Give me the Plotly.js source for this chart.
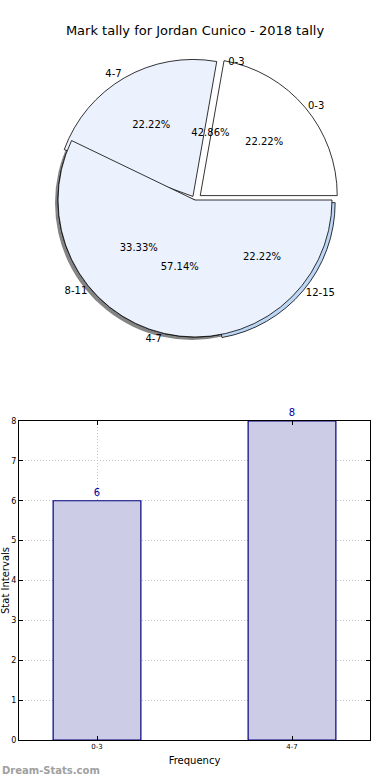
<!DOCTYPE html>
<html>
<head>
<meta charset="utf-8">
<script src="https://cdn.plot.ly/plotly-3.0.1.min.js"></script>
<style>html,body{margin:0;padding:0;background:#fff;}#chart{width:390px;height:780px;}</style>
</head>
<body>
<div id="chart"></div>
<script>
// ---- data ----
const titleText = "Mark tally for Jordan Cunico - 2018 tally";
const outerLabels = ["0-3", "4-7", "8-11", "12-15"];
const outerValues = [2, 2, 3, 2];
const innerLabels = ["0-3", "4-7"];
const innerValues = [6, 8];
const barCategories = ["0-3", "4-7"];
const barValues = [6, 8];
const yTicks = [0, 1, 2, 3, 4, 5, 6, 7, 8];

// ---- layout helpers (pixel geometry only) ----
const W = 390, H = 780;
const M = {l: 19, r: 20, t: 0, b: 40};
const PW = W - M.l - M.r, PH = H - M.t - M.b;
const fx = px => (px - M.l) / PW;
const fy = py => (H - M.b - py) / PH;
function pieDomain(cx, cy, r, maxPull) {
  const h = r * (1 + maxPull);
  return {x: [fx(cx - h), fx(cx + h)], y: [fy(cy + h), fy(cy - h)]};
}
// first slice starts at 3 o'clock and runs counterclockwise
const startRot = vals => 90 - 360 * vals[0] / vals.reduce((a, b) => a + b, 0);
const CX = 195, CY = 200, R = 137;
const outerPull = [0.05, 0.03, 0, 0.03];
const maxOuterPull = Math.max.apply(null, outerPull);
const clear = n => Array(n).fill("rgba(0,0,0,0)");
const FONT = "DejaVu Sans, Verdana, sans-serif";
const LIGHT = "#ebf1fd";

const pieCommon = {
  type: "pie", sort: false, direction: "counterclockwise",
  hoverinfo: "skip", showlegend: false
};
const outerBase = Object.assign({}, pieCommon, {
  labels: outerLabels, values: outerValues, pull: outerPull, rotation: startRot(outerValues),
  domain: pieDomain(CX, CY, R, maxOuterPull)
});
const innerBase = Object.assign({}, pieCommon, {
  labels: innerLabels, values: innerValues, rotation: startRot(innerValues),
  domain: pieDomain(CX, CY, R, 0)
});

const traces = [
  // shadow of the large wedge
  Object.assign({}, innerBase, {
    domain: pieDomain(CX - 3, CY + 3, R, 0),
    marker: {colors: ["rgba(0,0,0,0)", "rgba(80,80,80,0.7)"], line: {width: 0}},
    textinfo: "none"
  }),
  // outer pie (underneath)
  Object.assign({}, outerBase, {
    marker: {colors: ["#ffffff", LIGHT, LIGHT, "#bcd6f6"], line: {color: "#000", width: 0.8}},
    textinfo: "none"
  }),
  // inner pie (on top; first wedge unfilled)
  Object.assign({}, innerBase, {
    marker: {colors: ["rgba(0,0,0,0)", LIGHT], line: {color: "#000", width: [0, 0.8]}},
    textinfo: "none"
  }),
  // outer percent text
  Object.assign({}, outerBase, {
    marker: {colors: clear(4), line: {width: 0}},
    texttemplate: "%{percent:.2%}", textposition: "inside", insidetextorientation: "horizontal",
    textfont: {family: FONT, size: 10, color: "#000"}
  }),
  // outer labels
  Object.assign({}, outerBase, {
    marker: {colors: clear(4), line: {width: 0}},
    texttemplate: "%{label}", textposition: "outside",
    textfont: {family: FONT, size: 10, color: "#000"}
  }),
  // inner percent text
  Object.assign({}, innerBase, {
    marker: {colors: clear(2), line: {width: 0}},
    texttemplate: "%{percent:.2%}", textposition: "inside", insidetextorientation: "horizontal",
    textfont: {family: FONT, size: 10, color: "#000"}
  }),
  // inner labels
  Object.assign({}, innerBase, {
    marker: {colors: clear(2), line: {width: 0}},
    texttemplate: "%{label}", textposition: "outside",
    textfont: {family: FONT, size: 10, color: "#000"}
  }),
  // bar chart
  {
    type: "bar", x: barCategories, y: barValues, width: 0.45,
    marker: {color: "#ccccE6", line: {color: "#000080", width: 1.2}},
    text: barValues.map(String), textposition: "outside", cliponaxis: false,
    textfont: {family: FONT, size: 10, color: "#0000a0"},
    hoverinfo: "skip", showlegend: false
  }
];

const axisCommon = {
  showline: true, linecolor: "#000", linewidth: 1, mirror: "ticks",
  ticks: "inside", ticklen: 4, tickcolor: "#000",
  showgrid: true, gridcolor: "#c4c4c4", griddash: "1px,2px", gridwidth: 1,
  zeroline: false, tickfont: {family: FONT, size: 8, color: "#000"}
};

const layout = {
  width: W, height: H, margin: M,
  paper_bgcolor: "#fff", plot_bgcolor: "#fff",
  font: {family: FONT, color: "#000"},
  title: {text: titleText, font: {family: FONT, size: 13, color: "#000"},
          x: 0.5, xref: "container", y: 1 - 30 / H, yref: "container", yanchor: "middle"},
  xaxis: Object.assign({}, axisCommon, {
    domain: [0, 1], type: "category", range: [-0.4, 1.4], anchor: "y",
    tickfont: {family: FONT, size: 7, color: "#000"},
    title: {text: "Frequency", font: {family: FONT, size: 10, color: "#000"}, standoff: 6}
  }),
  yaxis: Object.assign({}, axisCommon, {
    domain: [0, fy(421)], range: [0, 8], tickvals: yTicks, anchor: "x",
    title: {text: "Stat Intervals", font: {family: FONT, size: 10, color: "#000"}, standoff: 6}
  }),
  annotations: [{
    text: "<b>Dream-Stats.com</b>", xref: "paper", yref: "paper",
    x: fx(0), y: fy(770), xanchor: "left", yanchor: "middle", showarrow: false,
    font: {family: FONT, size: 10, color: "#a0a0a0"}
  }]
};

Plotly.newPlot("chart", traces, layout, {staticPlot: true, displayModeBar: false});
</script>
</body>
</html>
